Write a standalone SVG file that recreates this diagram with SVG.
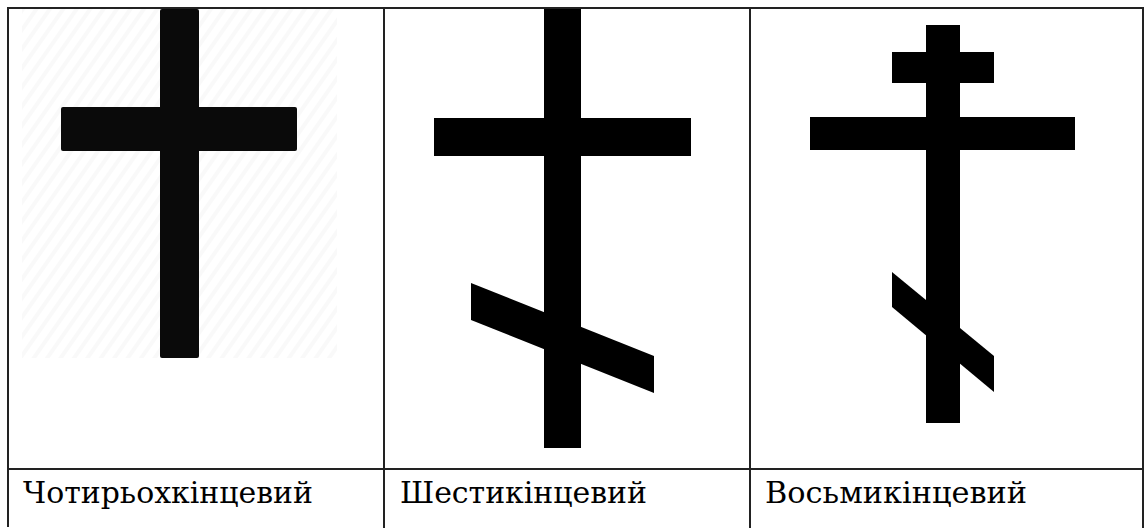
<svg xmlns="http://www.w3.org/2000/svg" width="1144" height="528" viewBox="0 0 1144 528">
  <defs>
    <pattern id="hatch" width="11" height="11" patternUnits="userSpaceOnUse" patternTransform="rotate(35)">
      <rect x="0" y="0" width="4" height="11" fill="#f9f9f9"/>
    </pattern>
    <style>
      .grid { stroke: #222; stroke-width: 2; fill: none; }
      .ink { fill: #000; }
      .label { font-family: "DejaVu Serif", "Liberation Serif", serif; font-size: 29.5px; fill: #000; }
    </style>
  </defs>
  <rect width="1144" height="528" fill="#fff"/>

  <g id="table">
    <line class="grid" x1="8" y1="8" x2="1143" y2="8"/>
    <line class="grid" x1="8" y1="7" x2="8" y2="527"/>
    <line class="grid" x1="384" y1="7" x2="384" y2="528"/>
    <line class="grid" x1="750" y1="7" x2="750" y2="528"/>
    <line class="grid" x1="1143" y1="7" x2="1143" y2="528"/>
    <line class="grid" x1="8" y1="469" x2="1143" y2="469"/>
  </g>

  <g id="cross-four">
    <rect x="22" y="9" width="315" height="349" fill="url(#hatch)"/>
    <rect x="160" y="9" width="39" height="349" rx="2" fill="#0a0a0a"/>
    <rect x="61" y="107" width="236" height="44" rx="2" fill="#0a0a0a"/>
  </g>

  <g id="cross-six">
    <rect class="ink" x="544" y="9" width="37" height="439"/>
    <rect class="ink" x="434" y="118" width="257" height="38"/>
    <polygon class="ink" points="471,283 654,356 654,393 471,320"/>
  </g>

  <g id="cross-eight">
    <rect class="ink" x="926" y="25" width="34" height="398"/>
    <rect class="ink" x="892" y="52" width="102" height="31"/>
    <rect class="ink" x="810" y="117" width="265" height="33"/>
    <polygon class="ink" points="892,272 994,356 994,392 892,307"/>
  </g>

  <g id="labels">
    <text class="label" x="23" y="503" textLength="290" lengthAdjust="spacingAndGlyphs">Чотирьохкінцевий</text>
    <text class="label" x="400" y="503" textLength="247" lengthAdjust="spacingAndGlyphs">Шестикінцевий</text>
    <text class="label" x="765" y="503" textLength="262" lengthAdjust="spacingAndGlyphs">Восьмикінцевий</text>
  </g>
</svg>
